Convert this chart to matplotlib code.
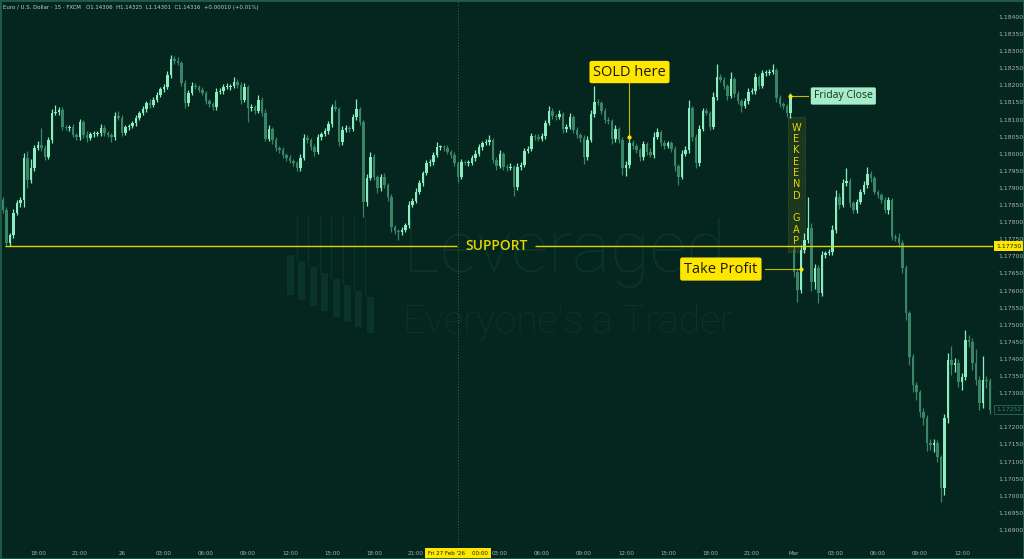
import numpy as np
import matplotlib
matplotlib.use('Agg')
import matplotlib.pyplot as plt
import matplotlib.transforms as mtransforms
from matplotlib.patches import Rectangle

# EUR/USD 15 min closes, Wed 25 Feb 15:30 -> Fri 27 Feb 23:45, then Mon from 00:00
closes = [
    1.17836, 1.17740, 1.17763, 1.17827, 1.17856, 1.17865, 1.17988, 1.17924, 1.17959, 1.18017,
    1.18026, 1.18017, 1.17991, 1.18041, 1.18120, 1.18123, 1.18128, 1.18079, 1.18076, 1.18079,
    1.18055, 1.18049, 1.18093, 1.18055, 1.18046, 1.18058, 1.18058, 1.18061, 1.18076, 1.18061,
    1.18055, 1.18049, 1.18111, 1.18105, 1.18061, 1.18079, 1.18082, 1.18090, 1.18105, 1.18120,
    1.18131, 1.18149, 1.18143, 1.18158, 1.18172, 1.18190, 1.18196, 1.18231, 1.18277, 1.18272,
    1.18266, 1.18207, 1.18149, 1.18178, 1.18198, 1.18196, 1.18187, 1.18178, 1.18155, 1.18146,
    1.18137, 1.18181, 1.18184, 1.18196, 1.18196, 1.18198, 1.18210, 1.18201, 1.18158, 1.18196,
    1.18134, 1.18137, 1.18125, 1.18158, 1.18120, 1.18044, 1.18073, 1.18041, 1.18017, 1.18011,
    1.17997, 1.17988, 1.17979, 1.17973, 1.17959, 1.17988, 1.18046, 1.18041, 1.18020, 1.18006,
    1.18049, 1.18058, 1.18067, 1.18087, 1.18137, 1.18131, 1.18035, 1.18070, 1.18076, 1.18073,
    1.18108, 1.18131, 1.18093, 1.17859, 1.17930, 1.17991, 1.17933, 1.17900, 1.17933, 1.17909,
    1.17874, 1.17786, 1.17775, 1.17772, 1.17778, 1.17792, 1.17851, 1.17862, 1.17889, 1.17915,
    1.17944, 1.17973, 1.17976, 1.17997, 1.18020, 1.18020, 1.18017, 1.18006, 1.17997, 1.17973,
    1.17933, 1.17976, 1.17973, 1.17973, 1.17988, 1.18000, 1.18020, 1.18032, 1.18035, 1.18041,
    1.17982, 1.17965, 1.18000, 1.17962, 1.17959, 1.17962, 1.17903, 1.17962, 1.17968, 1.18009,
    1.18014, 1.18052, 1.18049, 1.18044, 1.18052, 1.18090, 1.18125, 1.18111, 1.18108, 1.18117,
    1.18073, 1.18079, 1.18108, 1.18070, 1.18055, 1.18046, 1.17991, 1.18041, 1.18117, 1.18152,
    1.18149, 1.18125, 1.18099, 1.18096, 1.18044, 1.18073, 1.18041, 1.17959, 1.17968, 1.18032,
    1.18023, 1.18011, 1.17991, 1.18029, 1.18006, 1.17997, 1.18049, 1.18064, 1.18032, 1.18023,
    1.18032, 1.18014, 1.17965, 1.17933, 1.18000, 1.18011, 1.18134, 1.18049, 1.17973, 1.18073,
    1.18125, 1.18120, 1.18079, 1.18166, 1.18225, 1.18216, 1.18198, 1.18169, 1.18219, 1.18175,
    1.18155, 1.18140, 1.18155, 1.18181, 1.18184, 1.18225, 1.18198, 1.18236, 1.18236, 1.18240,
    1.18245, 1.18163, 1.18146, 1.18140, 1.18120, 1.18169,
    1.17655, 1.17602, 1.17719, 1.17748,
    1.17783, 1.17625, 1.17666, 1.17593, 1.17704, 1.17710, 1.17713, 1.17778, 1.17874, 1.17851,
    1.17915, 1.17921, 1.17856, 1.17836, 1.17859, 1.17889, 1.17909, 1.17941, 1.17930, 1.17889,
    1.17880, 1.17865, 1.17836, 1.17865, 1.17757, 1.17754, 1.17740, 1.17666, 1.17535, 1.17406,
    1.17324, 1.17304, 1.17245, 1.17228, 1.17155, 1.17149, 1.17155, 1.17114, 1.17023, 1.17228,
    1.17397, 1.17383, 1.17389, 1.17333, 1.17348, 1.17456, 1.17450, 1.17389, 1.17339, 1.17272,
    1.17339, 1.17336, 1.17252,
]
# wicks beyond the body, in points (0.00001)
wick_up = [
    10, 8, 6, 12, 8, 10, 15, 20, 25, 10, 12, 50, 10, 8, 12, 20, 10, 8, 6, 6,
    8, 6, 10, 6, 12, 6, 8, 6, 10, 8, 6, 6, 12, 15, 8, 6, 6, 6, 8, 6,
    8, 6, 10, 8, 10, 6, 8, 12, 12, 8, 10, 6, 10, 8, 12, 8, 6, 8, 6, 6,
    6, 10, 8, 8, 12, 6, 15, 8, 10, 10, 6, 8, 6, 15, 8, 12, 10, 6, 8, 6,
    10, 6, 8, 6, 6, 10, 12, 8, 6, 8, 10, 6, 8, 8, 10, 20, 6, 10, 8, 6,
    8, 30, 6, 6, 10, 15, 8, 6, 8, 10, 6, 8, 6, 6, 8, 6, 10, 8, 12, 8,
    6, 10, 8, 8, 15, 6, 6, 8, 6, 8, 6, 10, 6, 8, 8, 10, 8, 6, 8, 15,
    6, 8, 12, 6, 8, 10, 6, 12, 8, 8, 10, 8, 6, 8, 10, 8, 15, 8, 6, 10,
    6, 8, 10, 6, 8, 6, 8, 12, 10, 45, 8, 6, 10, 8, 6, 10, 6, 8, 10, 12,
    8, 6, 6, 8, 6, 10, 15, 10, 6, 8, 6, 6, 8, 6, 10, 12, 24, 6, 8, 12,
    8, 10, 6, 15, 38, 8, 10, 6, 20, 6, 8, 6, 8, 10, 8, 12, 6, 10, 8, 8,
    18, 6, 8, 6, 6, 10, 10, 8, 15, 20, 90, 15, 12, 8, 12, 6, 10, 15, 20, 10,
    12, 38, 8, 6, 10, 8, 12, 20, 8, 6, 6, 6, 8, 10, 6, 8, 15, 8, 10, 6,
    10, 8, 6, 12, 8, 10, 12, 8, 6, 10, 20, 40, 15, 10, 12, 30, 15, 10, 40, 10,
    70, 10, 8,
]
wick_dn = [
    10, 10, 10, 8, 6, 12, 20, 25, 10, 8, 6, 8, 10, 6, 8, 6, 10, 8, 6, 10,
    6, 8, 10, 8, 12, 6, 8, 6, 10, 8, 6, 15, 8, 6, 8, 6, 10, 6, 8, 6,
    6, 10, 8, 6, 8, 6, 8, 6, 8, 10, 6, 8, 15, 10, 6, 8, 6, 6, 10, 8,
    10, 8, 6, 8, 6, 10, 6, 8, 12, 8, 40, 8, 10, 6, 10, 8, 6, 12, 8, 10,
    8, 10, 6, 8, 10, 8, 6, 10, 8, 12, 6, 8, 6, 10, 8, 6, 12, 8, 6, 10,
    6, 8, 10, 45, 12, 8, 10, 15, 10, 8, 12, 15, 10, 24, 8, 6, 10, 8, 6, 8,
    8, 6, 10, 8, 6, 8, 10, 6, 8, 10, 15, 8, 6, 10, 6, 8, 6, 8, 6, 8,
    10, 12, 8, 10, 8, 6, 25, 8, 10, 6, 8, 6, 10, 8, 6, 8, 6, 10, 8, 6,
    12, 8, 6, 10, 8, 12, 20, 8, 6, 10, 6, 8, 10, 8, 15, 10, 8, 20, 25, 10,
    8, 10, 12, 8, 10, 6, 8, 6, 10, 8, 6, 10, 15, 25, 8, 6, 10, 12, 15, 8,
    6, 8, 10, 6, 8, 6, 10, 12, 6, 10, 8, 18, 6, 8, 6, 8, 10, 6, 8, 6,
    8, 12, 8, 10, 12, 15, 15, 35, 10, 8, 10, 25, 20, 30, 10, 8, 6, 8, 10, 12,
    8, 10, 12, 10, 8, 6, 8, 10, 12, 8, 10, 8, 10, 12, 8, 10, 12, 15, 20, 25,
    20, 25, 15, 20, 25, 15, 20, 15, 41, 20, 15, 30, 20, 15, 25, 10, 15, 20, 15, 20,
    15, 20, 12,
]
session_opens = {0: 1.17865, 226: 1.17719}

tick_bars = [10, 22, 34, 46, 58, 70, 82, 94, 106, 118, 142, 154, 166, 178,
             190, 202, 214, 226, 238, 250, 262, 274]
tick_labels = ['18:00', '21:00', '26', '03:00', '06:00', '09:00', '12:00', '15:00',
               '18:00', '21:00', '03:00', '06:00', '09:00', '12:00', '15:00', '18:00',
               '21:00', 'Mar', '03:00', '06:00', '09:00', '12:00']
cursor_bar = 130
cursor_label = "Fri 27 Feb '26    00:00"

price_ticks = np.arange(1.16900, 1.184001, 0.0005)
support = 1.17730
friday_bar = 225
sold_bar, sold_price = 179, 1.18049
tp_bar, tp_price = 228, 1.17663
gap_top, gap_bottom = 1.18108, 1.17713

header = ("Euro / U.S. Dollar \u00b7 15 \u00b7 FXCM   O1.14306  H1.14325  "
          "L1.14301  C1.14316  +0.00010 (+0.01%)")

assert len(closes) == len(wick_up) == len(wick_dn) == 283

BG = '#04261e'
UP = '#8aeec0'
DOWN = '#3a8566'
YEL = '#ffe600'
LINE_Y = '#e2d400'
AXTXT = '#aab4af'
WM = '#0b3428'

closes = np.array(closes)
opens = np.r_[np.nan, closes[:-1]]
for k, v in session_opens.items():
    opens[k] = v
idx = np.arange(len(closes))
top = np.maximum(opens, closes)
bot = np.minimum(opens, closes)
highs = top + np.array(wick_up) * 1e-5
lows = bot - np.array(wick_dn) * 1e-5
rising = closes >= opens
colors = np.where(rising, UP, DOWN)

fig = plt.figure(figsize=(10.24, 5.59), dpi=100, facecolor=BG)
ax = fig.add_axes([0, 14 / 559, 993 / 1024, 545 / 559])
ax.set_facecolor(BG)
for s in ax.spines.values():
    s.set_visible(False)
ax.set_xlim(-0.857, 282.86)
ax.set_ylim(1.168561, 1.184497)

# watermark
ax.text(0.406, 0.501, 'Leveraged', transform=ax.transAxes, fontsize=52,
        family='Roboto', fontweight='light', color=WM, va='baseline', zorder=0)
ax.text(0.406, 0.389, "Everyone's a Trader", transform=ax.transAxes, fontsize=28,
        family='Roboto', fontweight='light', color=WM, va='baseline', zorder=0)
for k in range(8):
    xl = (287 + 11.4 * k) / 993
    ytop = 1 - (255 + 6 * k) / 545
    ybot = 1 - (295 + 5.4 * k) / 545
    ax.add_patch(Rectangle((xl, ybot), 7 / 993, ytop - ybot, transform=ax.transAxes,
                           color=WM, lw=0, zorder=0))
    if k < 7:
        ax.plot([xl + 10 / 993] * 2, [1 - 217 / 545, ytop - 0.01], transform=ax.transAxes,
                color=WM, lw=1.0, zorder=0)

# cursor line
ax.axvline(cursor_bar, color='#56661f', lw=0.7, ls=(0, (1, 2)), zorder=1)

# weekend gap box
ax.add_patch(Rectangle((friday_bar - 0.7, gap_bottom), 4.8, gap_top - gap_bottom,
                       facecolor='#1f3a20', edgecolor='#5f6f25', lw=0.6, ls=':',
                       alpha=0.9, zorder=1))
ax.text(friday_bar + 1.7, (gap_top + gap_bottom) / 2, '\n'.join('WEKEEND GAP'),
        ha='center', va='center', fontsize=7, linespacing=1.17, color=LINE_Y,
        family='DejaVu Sans', zorder=5)

# candles
ax.vlines(idx, lows, highs, colors=colors, lw=0.9, zorder=3)
ax.bar(idx, np.maximum(top - bot, 0.00002), bottom=bot, width=0.8, color=colors,
       lw=0, zorder=3)

# support line with label gap
ax.hlines(support, 0.6, 129.7, color=LINE_Y, lw=1.0, zorder=4)
ax.hlines(support, 152.0, 282.86, color=LINE_Y, lw=1.0, zorder=4)
ax.text(140.9, support, 'SUPPORT', ha='center', va='center', fontsize=10,
        family='Open Sans', fontweight='semibold', color=LINE_Y, zorder=5)

# annotations
ax.plot([sold_bar, sold_bar], [sold_price, 1.18207], color='#c9b800', lw=0.8, zorder=4)
ax.plot(sold_bar, sold_price, 'o', ms=2, color=YEL, zorder=5)
ax.text(sold_bar, 1.18239, 'SOLD here', ha='center', va='center', fontsize=10.5,
        family='Open Sans', color='#1b1b10', zorder=6,
        bbox=dict(boxstyle='round,pad=0.25,rounding_size=0.15', fc=YEL, ec='none'))

ax.plot([217.7, tp_bar], [tp_price, tp_price], color='#c9b800', lw=0.8, zorder=4)
ax.plot(tp_bar, tp_price, 'o', ms=2, color=YEL, zorder=5)
ax.text(205.1, tp_price, 'Take Profit', ha='center', va='center', fontsize=10.5,
        family='Open Sans', color='#1b1b10', zorder=6,
        bbox=dict(boxstyle='round,pad=0.28,rounding_size=0.15', fc=YEL, ec='none'))

fc = closes[friday_bar]
ax.plot([friday_bar, 230], [fc, fc], color='#c9b800', lw=0.8, zorder=4)
ax.plot(friday_bar, fc, 'o', ms=2, color=YEL, zorder=5)
ax.text(240.1, fc, 'Friday Close', ha='center', va='center', fontsize=7.5,
        family='Open Sans', color='#143020', zorder=6,
        bbox=dict(boxstyle='round,pad=0.3,rounding_size=0.15', fc='#a6ecc8', ec='none'))

# header
ax.text(0.003, 0.987, header, transform=ax.transAxes, fontsize=3.9, color='#c4ccc8',
        ha='left', va='center')

# axes ticks (1.17250 sits under the last price label)
ax.yaxis.tick_right()
ax.set_yticks(price_ticks)
ax.set_yticklabels(['' if abs(p - 1.1725) < 1e-6 else f'{p:.5f}' for p in price_ticks])
ax.tick_params(axis='y', length=0, pad=4, labelsize=4.4, labelcolor=AXTXT)
ax.set_xticks(tick_bars)
ax.set_xticklabels(tick_labels)
ax.tick_params(axis='x', length=0, pad=4, labelsize=4.0, labelcolor=AXTXT)

yax = mtransforms.blended_transform_factory(ax.transAxes, ax.transData)
ax.text(1.003, support, '1.17730', transform=yax, fontsize=4.4, color='#1b1b10',
        ha='left', va='center', clip_on=False, zorder=7,
        bbox=dict(boxstyle='square,pad=0.35', fc=YEL, ec='none'))
ax.text(1.003, closes[-1], f'{closes[-1]:.5f}', transform=yax, fontsize=4.4,
        color='#3f7f66', ha='left', va='center', clip_on=False, zorder=7,
        bbox=dict(boxstyle='square,pad=0.35', fc=BG, ec='#2f6a54', lw=0.6))
xax = mtransforms.blended_transform_factory(ax.transData, ax.transAxes)
ax.text(cursor_bar, -0.0165, cursor_label, transform=xax, fontsize=4.0,
        color='#1b1b10', ha='center', va='center', clip_on=False, zorder=7,
        bbox=dict(boxstyle='square,pad=0.6', fc=YEL, ec='none'))

fig.patches.append(Rectangle((0, 0), 1, 1, transform=fig.transFigure, fill=False,
                             edgecolor='#1e5c48', lw=2))

fig.savefig('out.png', dpi=100, facecolor=BG)
